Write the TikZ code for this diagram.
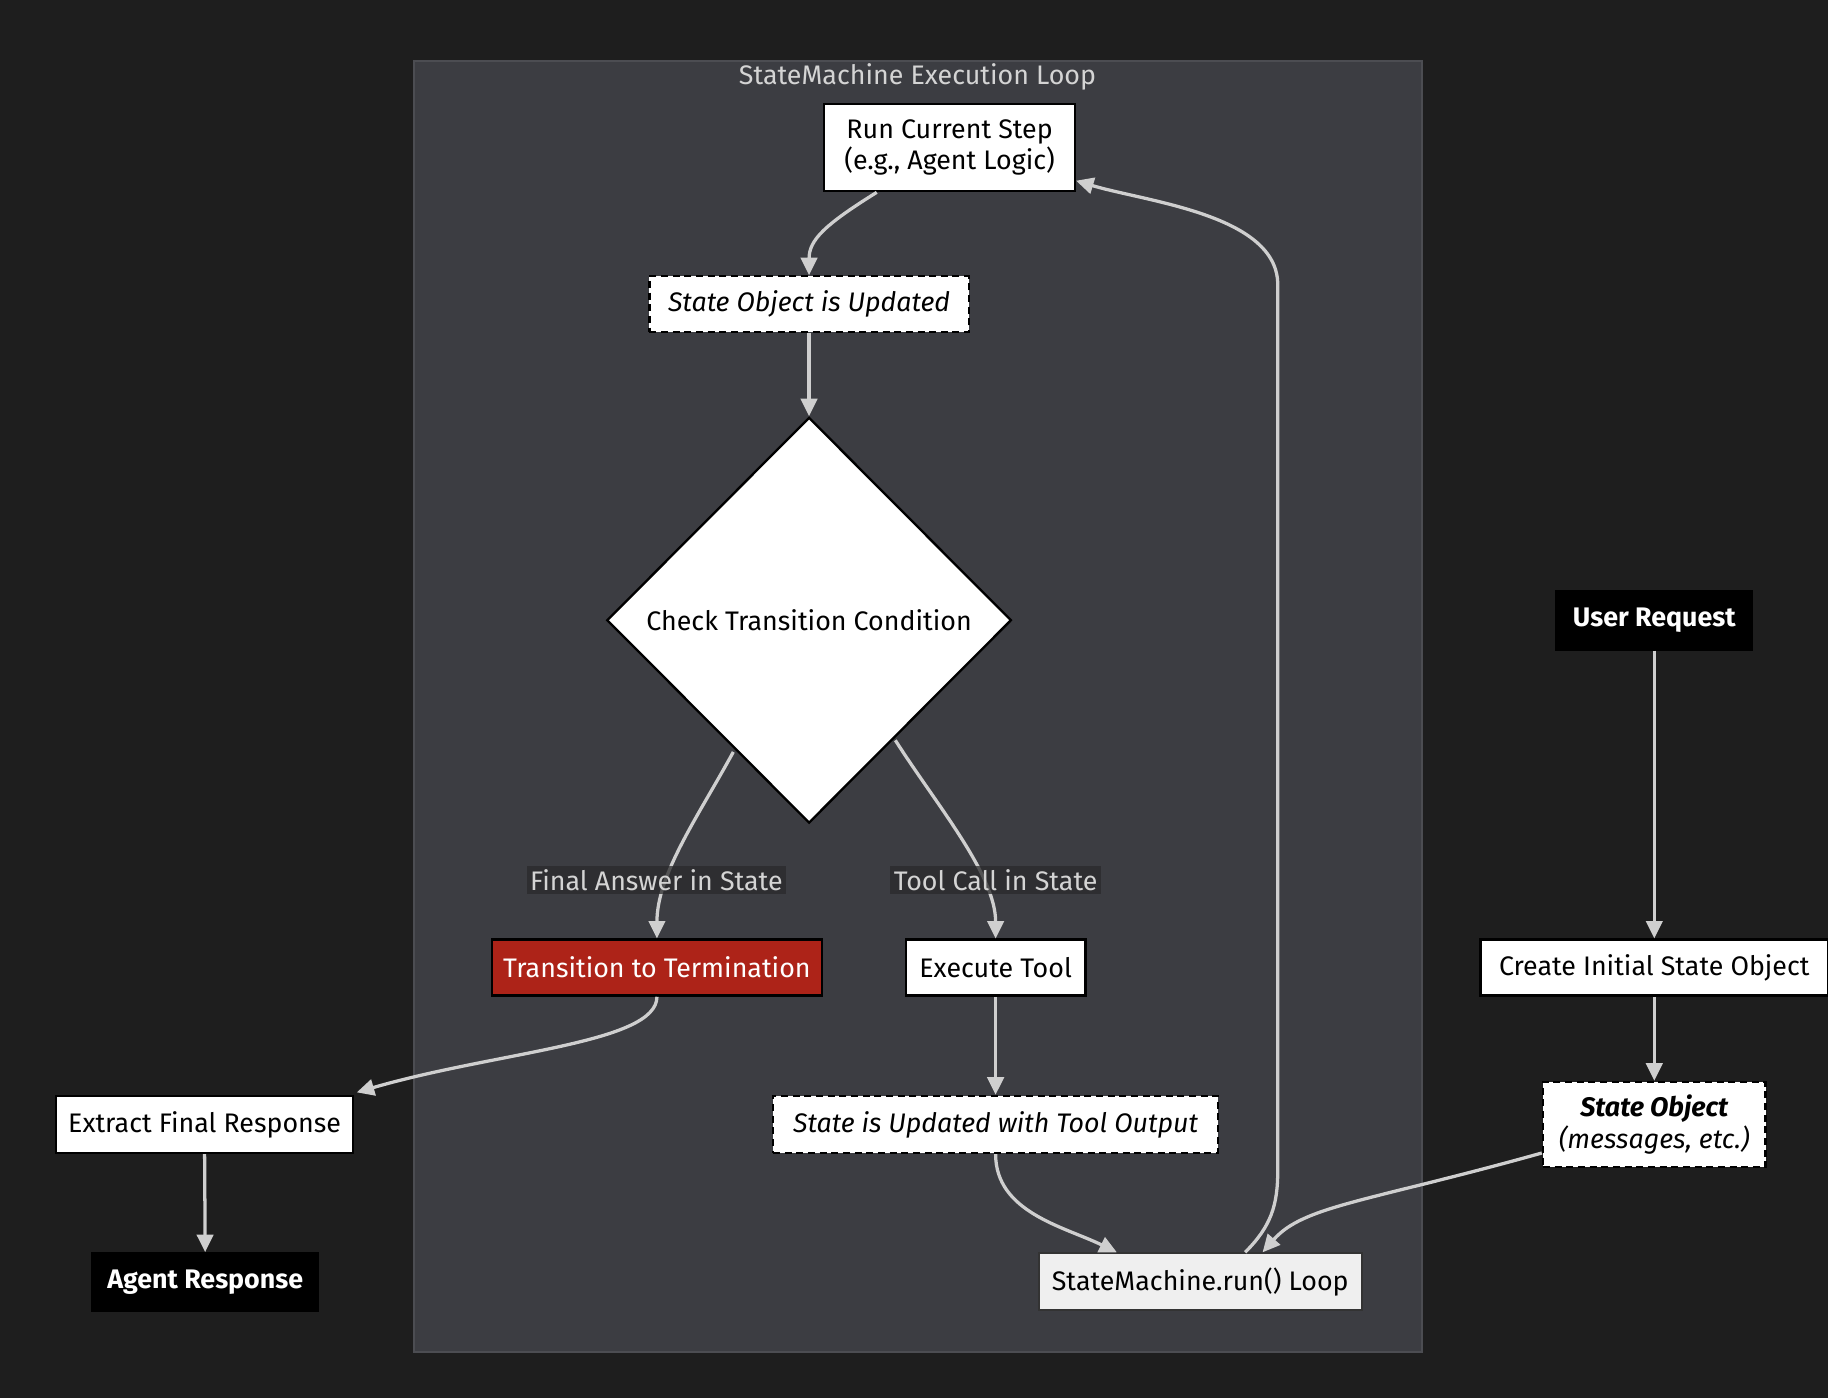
\documentclass[tikz,border=0pt]{standalone}
\usepackage{fontspec}
\setmainfont{Fira Sans}
\usetikzlibrary{shapes.geometric,arrows.meta,calc}
\definecolor{bgc}{HTML}{1E1E1E}
\definecolor{clfill}{HTML}{3C3D42}
\definecolor{cldraw}{HTML}{4C4D52}
\definecolor{edgec}{HTML}{CFCFCF}
\definecolor{redc}{HTML}{AD2318}
\definecolor{lblbg}{HTML}{2A2A2C}
\definecolor{titlec}{HTML}{D4D4D4}
\definecolor{smfill}{HTML}{EFEFEF}
\begin{document}
\begin{tikzpicture}[x=0.5pt,y=-0.5pt,
  font=\fontsize{11.5pt}{13.6pt}\selectfont,
  box/.style={draw=black,line width=1pt,fill=white,text=black,inner sep=0pt,align=center},
  dbox/.style={box,dashed,dash pattern=on 3pt off 2pt,font=\fontsize{11.5pt}{13.6pt}\selectfont\itshape},
  termbox/.style={box,fill=black,draw=black,text=white,font=\fontsize{11.5pt}{13.6pt}\selectfont\bfseries},
  conn/.style={draw=edgec,line width=1.4pt,-{Triangle[length=7.5pt,width=7pt]}},
  lbl/.style={fill=lblbg,fill opacity=0.75,text opacity=1,text=titlec,inner sep=1.5pt}
]
\useasboundingbox (0,0) rectangle (1568,1199);
\fill[bgc] (0,0) rectangle (1568,1199);
\filldraw[fill=clfill,draw=cldraw,line width=0.8pt] (355,52) rectangle (1220,1160);
\node[text=titlec] (title) at (787,66) {StateMachine Execution Loop};

\node[box,minimum width=107.5pt,minimum height=37.5pt] (run) at (814.5,126.5) {Run Current Step\\(e.g., Agent Logic)};
\node[dbox,minimum width=137pt,minimum height=24pt] (sou) at (694,261) {State Object is Updated};
\node[box,diamond,aspect=1,minimum width=173.5pt,minimum height=174pt] (dia) at (694,532) {Check Transition Condition};
\node[box,fill=redc,text=white,minimum width=141.5pt,minimum height=24pt] (term) at (563.5,830) {Transition to Termination};
\node[box,minimum width=77pt,minimum height=24pt] (exec) at (854,830) {Execute Tool};
\node[dbox,minimum width=191pt,minimum height=24.5pt] (suo) at (854,964.5) {State is Updated with Tool Output};
\node[box,fill=smfill,draw=black!80,line width=0.8pt,minimum width=138.5pt,minimum height=24.5pt] (smrun) at (1029.5,1099.5) {StateMachine.run() Loop};
\node[box,minimum width=127.5pt,minimum height=24.5pt] (extract) at (175.5,964.5) {Extract Final Response};
\node[termbox,minimum width=97pt,minimum height=24.5pt] (agent) at (176,1099.5) {Agent Response};
\node[termbox,minimum width=84pt,minimum height=25pt] (user) at (1419,532) {User Request};
\node[box,minimum width=149pt,minimum height=24pt] (create) at (1419,830) {Create Initial State Object};
\node[dbox,minimum width=95.5pt,minimum height=36.5pt] (so) at (1419,964.5) {\textbf{\textit{State Object}}\\\textit{(messages, etc.)}};

% edges
\draw[conn] ($(run.south)+(-62.5,0)$) .. controls +(-45,28) and +(0,-30) .. (sou.north);
\draw[conn] (sou.south) -- (dia.north);
\draw[conn] ($(dia.center)+(-65,113)$) .. controls +(-30,55) and +(0,-55) .. (term.north);
\draw[conn] ($(dia.center)+(74,103)$) .. controls +(35,55) and +(0,-55) .. (exec.north);
\node[lbl] (l1) at (563,755) {Final Answer in State};
\node[lbl] (l2) at (854,755) {Tool Call in State};
\draw[conn] (term.south) .. controls +(0,40) and +(120,-35) .. ($(extract.north east)+(2,-2)$);
\draw[conn] (extract.south) -- (agent.north);
\draw[conn] (exec.south) -- (suo.north);
\draw[conn] (suo.south) .. controls +(0,50) and +(-45,-22) .. ($(smrun.north)+(-71.5,0)$);
\draw[conn]
  ($(smrun.north)+(38.5,0)$) coordinate (s1) .. controls +(22,-22) and +(0,30) .. ($(s1)+(28,-70)$) coordinate (s2)
  -- ($(s2)+(0,-760)$) coordinate (s3) .. controls +(0,-60) and +(60,18) .. ($(run.east)+(0,28.5)$);
\draw[conn] ($(so.west)+(0,24.5)$) .. controls +(-150,42) and +(35,-40) .. ($(smrun.north)+(53.5,0)$);
\draw[conn] (user.south) -- (create.north);
\draw[conn] (create.south) -- (so.north);
\end{tikzpicture}
\end{document}
